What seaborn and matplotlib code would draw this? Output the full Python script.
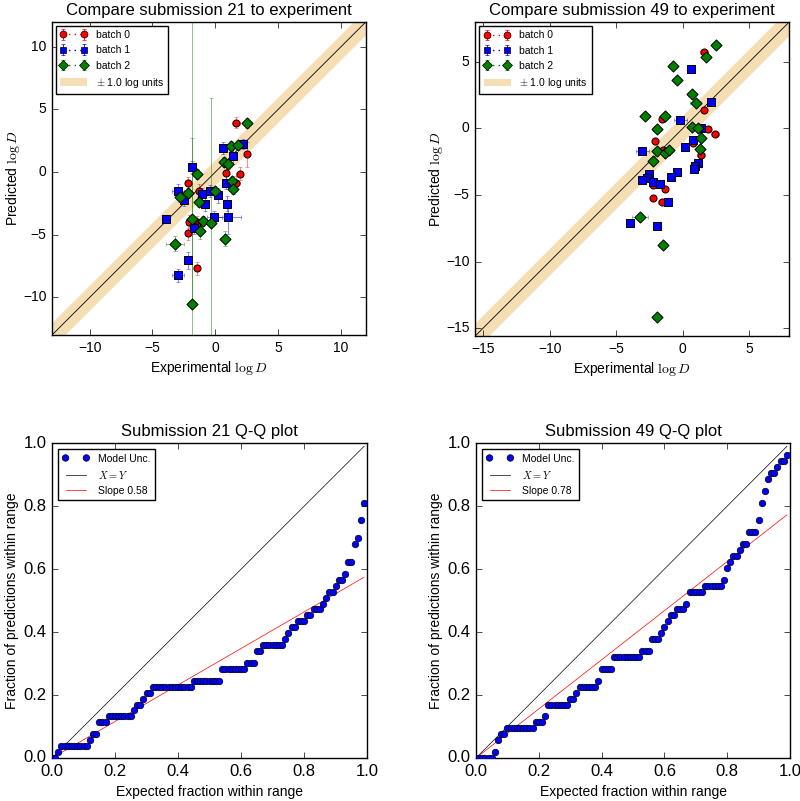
import numpy as np
import matplotlib
matplotlib.use("Agg")
import matplotlib.pyplot as plt
import seaborn as sns
from matplotlib.patches import Patch
from matplotlib.ticker import MultipleLocator

# ---- submission 21: experimental vs predicted logD, per batch ----
x0_21 = [1.65, 2.56, 1.93, 0.84, 1.66, -2.17, -1.27, -2.07, -1.47, -1.47, -2.17, -1.48]
y0_21 = [3.95, 1.44, -0.13, -0.11, -0.84, -0.85, -1.47, -3.95, -3.97, -4.30, -4.83, -7.69]
xe0_21 = [0.3, 0.2, 0.3, 0.2, 0.3, 0.2, 0.3, 0.2, 0.2, 0.2, 0.2, 0.2]
ye0_21 = [0.45, 1.0, 0.5, 0.5, 0.5, 0.5, 0.5, 0.5, 0.5, 0.5, 0.6, 0.5]

x1_21 = [2.21, 0.59, 1.41, 0.85, -1.84, -2.96, -1.07, -2.51, -0.40, 0.24, -0.85, 0.96,
         -0.08, 1.04, -3.89, -1.71, -2.19, -2.96]
y1_21 = [2.24, 1.92, 1.25, -0.83, 0.40, -1.47, -1.76, -2.24, -1.50, -1.84, -2.51, -2.51,
         -3.60, -3.60, -3.71, -4.45, -7.04, -8.24]
xe1_21 = [0.3, 0.3, 0.3, 0.3, 0.3, 0.5, 0.3, 0.3, 0.3, 0.3, 0.3, 0.3,
          0.6, 1.0, 0.2, 0.3, 0.3, 0.5]
ye1_21 = [0.4, 0.5, 0.6, 0.5, 0.5, 0.5, 0.5, 0.5, 0.5, 0.6, 0.6, 0.6,
          0.5, 1.3, 0.3, 0.5, 0.7, 0.5]

x2_21 = [2.56, 1.23, 1.84, 0.69, 1.01, -1.47, 1.33, 1.41, -2.16, 0.00, -2.77, -1.31,
         -1.87, -0.99, -0.37, -1.25, 0.75, -3.20, -1.87]
y2_21 = [3.92, 2.10, 2.16, 0.77, 0.61, -0.16, -0.72, -1.33, -1.68, -1.47, -1.97, -2.35,
         -3.76, -3.92, -4.08, -4.72, -5.31, -5.71, -10.50]
xe2_21 = [0.3, 0.3, 0.3, 0.3, 0.3, 0.3, 0.3, 0.3, 0.3, 0.3, 0.3, 0.3,
          0.3, 0.3, 0.3, 0.3, 0.3, 0.7, 0.3]
ye2_21 = [0.4, 0.4, 0.4, 0.4, 0.4, 0.4, 0.4, 0.4, 0.4, 0.4, 0.4, 0.4,
          6.5, 0.4, 10.0, 0.6, 0.6, 0.6, 25.0]

# ---- submission 49 ----
x0_49 = [1.58, 1.58, -1.54, 1.86, 2.46, -2.12, -1.50, 0.78, 1.37, -2.21, -1.35, -2.21, -1.55]
y0_49 = [5.75, 1.40, 0.70, -0.05, -0.45, -0.93, -1.59, -1.07, -1.97, -4.28, -4.56, -5.22, -5.53]
xe0_49 = [0.3, 0.2, 0.2, 0.3, 0.3, 0.2, 0.3, 0.2, 0.3, 0.2, 0.2, 0.2, 0.3]
ye0_49 = [0.1] * 13

x1_49 = [0.60, 2.15, -0.18, 1.40, 0.15, 0.78, -3.05, 1.15, 0.95, 0.88, -0.45, -0.92,
         -2.52, -2.67, -3.05, -2.20, -1.72, -1.12, -3.93, -1.90]
y1_49 = [4.48, 1.97, 0.60, 0.07, -1.40, -0.90, -1.67, -2.57, -2.80, -3.03, -3.28, -3.63,
         -3.40, -3.75, -3.90, -4.03, -4.15, -5.53, -7.08, -7.33]
xe1_49 = [0.3, 0.3, 0.5, 0.3, 0.3, 0.3, 0.5, 0.3, 0.4, 0.3, 0.3, 0.3,
          0.3, 0.3, 0.3, 0.3, 0.3, 0.3, 0.2, 0.2]
ye1_49 = [0.1] * 20

x2_49 = [2.48, 1.78, -0.72, -0.42, 0.70, 0.98, -2.83, -1.30, -1.90, 0.68, 1.18, 1.40,
         1.28, -1.93, -1.30, -1.03, -2.23, -3.25, -1.52, -1.90]
y2_49 = [6.30, 5.40, 4.68, 3.67, 2.60, 1.93, 0.90, 0.92, -0.03, 0.10, 0.05, -0.73,
         -1.58, -1.70, -1.85, -1.65, -2.48, -6.68, -8.75, -14.18]
xe2_49 = [0.3, 0.3, 0.3, 0.3, 0.3, 0.4, 0.3, 0.3, 0.3, 0.3, 0.3, 0.3,
          0.3, 0.3, 0.3, 0.3, 0.3, 0.6, 0.3, 0.3]
ye2_49 = [0.1] * 20

batch_labels = ["batch 0", "batch 1", "batch 2"]
batch_colors = ["red", "blue", "green"]
batch_markers = ["o", "s", "D"]

# ---- Q-Q data: count of the 53 predictions inside the expected range ----
n_mol = 53
expected = np.arange(100) / 100
k21 = [
    0, 0, 1, 2, 2, 2, 2, 2, 2, 2,
    2, 2, 3, 4, 4, 6, 6, 6, 7, 7,
    7, 7, 7, 7, 7, 7, 8, 9, 9, 10,
    11, 11, 12, 12, 12, 12, 12, 12, 12, 12,
    12, 12, 12, 12, 12, 13, 13, 13, 13, 13,
    13, 13, 13, 13, 15, 15, 15, 15, 15, 15,
    15, 15, 16, 16, 16, 18, 18, 19, 19, 19,
    19, 19, 19, 19, 20, 21, 22, 22, 23, 23,
    23, 24, 24, 25, 25, 25, 26, 27, 28, 28,
    29, 30, 30, 31, 33, 33, 36, 37, 40, 43,
]
k49 = [
    0, 0, 0, 0, 0, 0, 1, 3, 4, 4,
    5, 5, 5, 5, 5, 5, 5, 5, 5, 6,
    6, 6, 7, 9, 9, 9, 9, 9, 9, 9,
    10, 10, 11, 12, 12, 12, 12, 12, 12, 13,
    15, 15, 15, 15, 17, 17, 17, 17, 17, 17,
    17, 17, 17, 18, 18, 18, 20, 20, 20, 21,
    22, 23, 24, 24, 25, 25, 25, 26, 28, 28,
    28, 28, 28, 29, 29, 29, 29, 29, 29, 30,
    32, 33, 34, 34, 35, 36, 36, 38, 38, 38,
    40, 43, 45, 47, 48, 48, 49, 50, 50, 51,
]
slope21 = 0.58
slope49 = 0.78

plt.style.use("classic")
plt.rcParams.update({
    "figure.facecolor": "white",
    "savefig.facecolor": "white",
    "axes.linewidth": 1.0,
    "mathtext.fontset": "cm",
    "legend.fancybox": False,
})
plt.rcParams["font.family"] = ["Liberation Sans", "DejaVu Sans"]


def compare_plot(ax, batches, lim, title):
    lim = np.array(lim)
    ax.fill_between(lim, lim - 1, lim + 1, color="wheat", lw=0, zorder=1)
    ax.plot(lim, lim, color="k", lw=0.6, zorder=1.5)
    for (x, y, xe, ye), color, marker in zip(batches, batch_colors, batch_markers):
        ax.errorbar(x, y, xerr=xe, yerr=ye, fmt="none", ecolor=color,
                    elinewidth=0.6, capsize=1.5, alpha=0.55, zorder=2)
        size = 32 if marker == "D" else 26
        sns.scatterplot(x=x, y=y, ax=ax, color=color, marker=marker, s=size,
                        edgecolor="k", linewidth=0.7, zorder=3, legend=False)
    handles = []
    for color, marker, label in zip(batch_colors, batch_markers, batch_labels):
        h = ax.errorbar([np.nan], [np.nan], yerr=[np.nan], fmt=marker, ls=":",
                        color=color, mec="k", ms=5, capsize=1.5, elinewidth=0.6,
                        label=label)
        handles.append(h)
    handles.append(Patch(facecolor="wheat", edgecolor="none",
                         label=r"$\pm$ 1.0 log units"))
    ax.legend(handles=handles, loc="upper left", fontsize=7.5, numpoints=2,
              borderaxespad=0.4, handlelength=2.6)
    ax.set_xlim(lim)
    ax.set_ylim(lim)
    ax.xaxis.set_major_locator(MultipleLocator(5))
    ax.yaxis.set_major_locator(MultipleLocator(5))
    ax.tick_params(labelsize=10)
    ax.set_title(title, fontsize=12)
    ax.set_xlabel(r"Experimental $\log D$", fontsize=10, labelpad=3)
    ax.set_ylabel(r"Predicted $\log D$", fontsize=10, labelpad=1)


def qq_plot(ax, k, slope, title):
    frac = np.array(k) / n_mol
    sns.scatterplot(x=expected, y=frac, ax=ax, color="blue", edgecolor="k",
                    linewidth=0.5, s=22, zorder=3, label="Model Unc.")
    sns.lineplot(x=expected, y=expected, ax=ax, color="k", lw=0.5, label="$X=Y$")
    sns.lineplot(x=expected, y=slope * expected, ax=ax, color="red", lw=0.5,
                 label=f"Slope {slope:.2f}")
    ax.legend(loc="upper left", fontsize=7.5, scatterpoints=2,
              scatteryoffsets=[0.5], borderaxespad=0.6, handlelength=2.6)
    ax.set_xlim(0, 1)
    ax.set_ylim(0, 1)
    ax.xaxis.set_major_locator(MultipleLocator(0.2))
    ax.yaxis.set_major_locator(MultipleLocator(0.2))
    ax.tick_params(labelsize=12)
    ax.set_title(title, fontsize=12)
    ax.set_xlabel("Expected fraction within range", fontsize=10)
    ax.set_ylabel("Fraction of predictions within range", fontsize=10, labelpad=3)


fig = plt.figure(figsize=(8, 8.01), dpi=100)
ax_tl = fig.add_axes([0.065, 0.5818, 0.3925, 0.391])
ax_tr = fig.add_axes([0.594, 0.5805, 0.3925, 0.392])
ax_bl = fig.add_axes([0.065, 0.0537, 0.394, 0.393])
ax_br = fig.add_axes([0.595, 0.0537, 0.3925, 0.393])

compare_plot(ax_tl,
             [(x0_21, y0_21, xe0_21, ye0_21), (x1_21, y1_21, xe1_21, ye1_21),
              (x2_21, y2_21, xe2_21, ye2_21)],
             [-13, 12], "Compare submission 21 to experiment")
compare_plot(ax_tr,
             [(x0_49, y0_49, xe0_49, ye0_49), (x1_49, y1_49, xe1_49, ye1_49),
              (x2_49, y2_49, xe2_49, ye2_49)],
             [-15.6, 8.0], "Compare submission 49 to experiment")
qq_plot(ax_bl, k21, slope21, "Submission 21 Q-Q plot")
qq_plot(ax_br, k49, slope49, "Submission 49 Q-Q plot")

fig.savefig("out.png", dpi=100)
